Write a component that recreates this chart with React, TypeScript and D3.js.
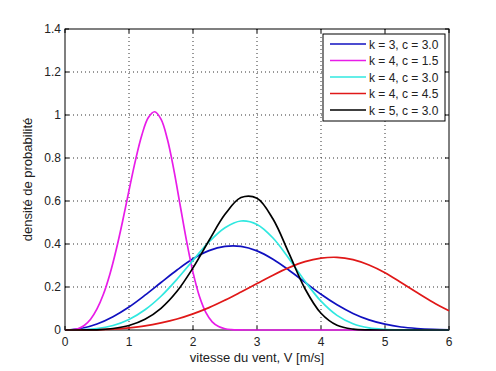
import React from 'react';
import * as d3 from 'd3';

// vitesse du vent (m/s), pas de 0.25
const vitesse = [0, 0.25, 0.5, 0.75, 1, 1.25, 1.5, 1.75, 2, 2.25, 2.5, 2.75, 3, 3.25, 3.5, 3.75, 4, 4.25, 4.5, 4.75, 5, 5.25, 5.5, 5.75, 6];
// pas plus fin pour la courbe étroite (k = 4, c = 1.5)
const vitesseFine = [0, 0.1, 0.2, 0.3, 0.4, 0.5, 0.6, 0.7, 0.8, 0.9, 1, 1.1, 1.2, 1.3, 1.4, 1.5, 1.6, 1.7, 1.8, 1.9, 2, 2.1, 2.2, 2.3, 2.4, 2.5, 2.6, 2.7, 2.8, 3, 3.5, 4, 4.5, 5, 5.5, 6];

const densK3C30 = [0, 0.007, 0.028, 0.062, 0.107, 0.162, 0.221, 0.279, 0.331, 0.369, 0.389, 0.389, 0.368, 0.329, 0.278, 0.222, 0.166, 0.117, 0.077, 0.047, 0.027, 0.014, 0.007, 0.003, 0.001];
const densK4C15 = [0, 0.001, 0.006, 0.021, 0.050, 0.098, 0.166, 0.258, 0.373, 0.506, 0.649, 0.788, 0.906, 0.987, 1.015, 0.981, 0.887, 0.746, 0.579, 0.413, 0.268, 0.157, 0.082, 0.038, 0.016, 0.006, 0.002, 0.0004, 0.0001, 0, 0, 0, 0, 0, 0, 0];
const densK4C30 = [0, 0.001, 0.006, 0.021, 0.049, 0.094, 0.157, 0.236, 0.324, 0.410, 0.476, 0.507, 0.491, 0.428, 0.332, 0.227, 0.134, 0.068, 0.029, 0.010, 0.003, 0.0006, 0.0001, 0, 0];
const densK4C45 = [0, 0.0002, 0.001, 0.004, 0.010, 0.019, 0.033, 0.051, 0.075, 0.104, 0.139, 0.177, 0.216, 0.255, 0.290, 0.318, 0.334, 0.338, 0.327, 0.302, 0.266, 0.221, 0.174, 0.129, 0.089];
const densK5C30 = [0, 0.0001, 0.001, 0.007, 0.021, 0.050, 0.101, 0.180, 0.289, 0.416, 0.538, 0.616, 0.613, 0.516, 0.356, 0.192, 0.078, 0.022, 0.004, 0.0005, 0, 0, 0, 0, 0];

const legendLabels = ['k = 3, c = 3.0', 'k = 4, c = 1.5', 'k = 4, c = 3.0', 'k = 4, c = 4.5', 'k = 5, c = 3.0'];
const couleurs = ['#1010c0', '#e81ce8', '#30e8e0', '#e01818', '#000000'];

const xTicks = [0, 1, 2, 3, 4, 5, 6];
const yTicks = [0, 0.2, 0.4, 0.6, 0.8, 1, 1.2, 1.4];

const series = [
  { x: vitesse, y: densK3C30 },
  { x: vitesseFine, y: densK4C15 },
  { x: vitesse, y: densK4C30 },
  { x: vitesse, y: densK4C45 },
  { x: vitesse, y: densK5C30 },
];

export default function App() {
  const width = 496;
  const height = 371;
  const margin = { left: 65, top: 29, right: 47, bottom: 41 };
  const innerW = width - margin.left - margin.right;
  const innerH = height - margin.top - margin.bottom;

  const xScale = d3.scaleLinear().domain([0, 6]).range([0, innerW]);
  const yScale = d3.scaleLinear().domain([0, 1.4]).range([innerH, 0]);

  const line = (xs: number[], ys: number[]) =>
    d3.line<number>()
      .x((_, i) => xScale(xs[i]))
      .y(d => yScale(Math.max(0, d)))
      .curve(d3.curveCatmullRom.alpha(0.5))(ys) || '';

  const font = 'Liberation Sans, Arial, sans-serif';
  const legX = 258;
  const legY = 5;

  return (
    <div style={{ position: 'absolute', left: 0, top: 0 }}>
      <svg width={width} height={height} style={{ display: 'block', background: '#fff' }} fontFamily={font}>
        <g transform={`translate(${margin.left},${margin.top})`}>
          {/* grille */}
          {xTicks.slice(1, -1).map(t => (
            <line key={'gx' + t} x1={xScale(t)} x2={xScale(t)} y1={0} y2={innerH}
              stroke="#333" strokeWidth={1} strokeDasharray="1,3" />
          ))}
          {yTicks.slice(1, -1).map(t => (
            <line key={'gy' + t} x1={0} x2={innerW} y1={yScale(t)} y2={yScale(t)}
              stroke="#333" strokeWidth={1} strokeDasharray="1,3" />
          ))}

          {/* cadre et graduations */}
          <rect x={0} y={0} width={innerW} height={innerH} fill="none" stroke="#000" strokeWidth={1} />
          {xTicks.map(t => (
            <g key={'tx' + t}>
              <line x1={xScale(t)} x2={xScale(t)} y1={innerH} y2={innerH - 4} stroke="#000" />
              <line x1={xScale(t)} x2={xScale(t)} y1={0} y2={4} stroke="#000" />
              <text x={xScale(t)} y={innerH + 16} textAnchor="middle" fontSize={12} fill="#222">{t}</text>
            </g>
          ))}
          {yTicks.map(t => (
            <g key={'ty' + t}>
              <line x1={0} x2={4} y1={yScale(t)} y2={yScale(t)} stroke="#000" />
              <line x1={innerW} x2={innerW - 4} y1={yScale(t)} y2={yScale(t)} stroke="#000" />
              <text x={-4} y={yScale(t) + 4} textAnchor="end" fontSize={12} fill="#222">{t}</text>
            </g>
          ))}

          {/* courbes */}
          {series.map((s, i) => (
            <path key={'c' + i} d={line(s.x, s.y)} fill="none" stroke={couleurs[i]} strokeWidth={1.7} />
          ))}

          {/* légende */}
          <rect x={legX} y={legY} width={122} height={87} fill="#fff" stroke="#000" strokeWidth={1} />
          {legendLabels.map((lab, i) => (
            <g key={'l' + i} transform={`translate(${legX},${legY + 10 + i * 16.5})`}>
              <line x1={7} x2={43} y1={0} y2={0} stroke={couleurs[i]} strokeWidth={1.7} />
              <text x={46} y={4.5} fontSize={12} fill="#222">{lab}</text>
            </g>
          ))}
        </g>

        {/* titres des axes */}
        <text x={margin.left + innerW / 2} y={362} textAnchor="middle" fontSize={13} fill="#222">
          vitesse du vent, V [m/s]
        </text>
        <text transform={`translate(32,${margin.top + innerH / 2}) rotate(-90)`} textAnchor="middle" fontSize={13} fill="#222">
          densité de probabilité
        </text>
      </svg>
    </div>
  );
}
